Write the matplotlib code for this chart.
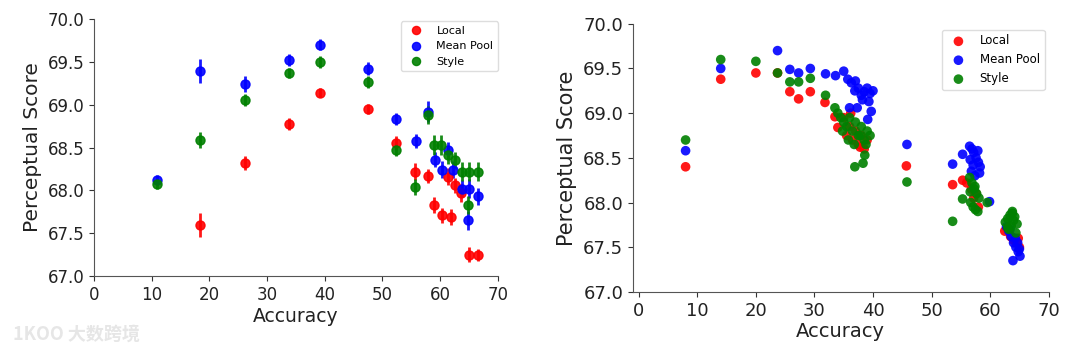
import matplotlib
matplotlib.use("Agg")
import matplotlib.pyplot as plt

# ---------------- Left panel data (with error bars) ----------------
left_local_x = [18.3, 26.2, 33.8, 39.1, 47.5, 52.4, 55.6, 57.9, 59.0, 60.4, 61.3, 61.8, 62.6, 63.6, 65.0, 66.5]
left_local_y = [67.60, 68.32, 68.78, 69.14, 68.95, 68.55, 68.22, 68.17, 67.83, 67.71, 68.16, 67.69, 68.06, 67.97, 67.25, 67.25]
left_local_err = [0.14, 0.08, 0.07, 0.05, 0.06, 0.08, 0.10, 0.08, 0.09, 0.09, 0.10, 0.09, 0.09, 0.10, 0.09, 0.07]

left_pool_x = [10.9, 18.3, 26.2, 33.8, 39.1, 47.5, 52.4, 55.8, 57.9, 59.1, 60.4, 61.4, 62.3, 63.7, 65.0, 64.8, 66.5]
left_pool_y = [68.12, 69.39, 69.24, 69.52, 69.70, 69.42, 68.83, 68.58, 68.92, 68.36, 68.24, 68.47, 68.24, 68.02, 68.02, 67.65, 67.93]
left_pool_err = [0.06, 0.14, 0.09, 0.07, 0.06, 0.08, 0.07, 0.08, 0.12, 0.09, 0.10, 0.10, 0.10, 0.10, 0.11, 0.11, 0.10]

left_style_x = [10.9, 18.3, 26.2, 33.8, 39.1, 47.5, 52.4, 55.6, 57.9, 59.0, 60.2, 61.4, 62.6, 63.7, 65.0, 66.5, 64.8]
left_style_y = [68.07, 68.59, 69.05, 69.37, 69.50, 69.26, 68.47, 68.04, 68.88, 68.53, 68.53, 68.41, 68.35, 68.22, 68.22, 68.22, 67.83]
left_style_err = [0.05, 0.09, 0.07, 0.06, 0.07, 0.07, 0.07, 0.09, 0.10, 0.12, 0.12, 0.10, 0.10, 0.11, 0.11, 0.11, 0.10]

# ---------------- Right panel data (scatter) ----------------
right_local_x = [8.0, 14.0, 20.0, 23.7, 25.8, 27.3, 29.3, 31.8, 33.5, 34.0,
                 35.0, 35.5, 36.0, 36.5, 37.0, 37.5, 38.0, 38.5, 39.0, 36.2,
                 37.8, 45.7, 53.6, 55.3, 56.0, 56.8, 57.2, 57.6, 58.0, 62.5,
                 63.0, 63.5, 64.0, 64.5, 65.0, 64.8]
right_local_y = [68.40, 69.38, 69.45, 69.45, 69.24, 69.16, 69.24, 69.12, 68.96, 68.84,
                 68.95, 68.75, 68.85, 68.70, 68.80, 68.65, 68.75, 68.60, 68.70, 69.00,
                 68.62, 68.41, 68.20, 68.25, 68.22, 68.15, 68.05, 68.10, 67.95, 67.68,
                 67.70, 67.62, 67.58, 67.55, 67.50, 67.60]

right_pool_x = [8.0, 14.0, 23.7, 25.8, 27.3, 29.3, 31.9, 33.6, 35.0, 35.7,
                36.3, 37.0, 36.9, 37.5, 38.0, 38.5, 39.0, 39.5, 40.0, 38.2,
                39.3, 36.0, 37.3, 39.7, 39.1, 45.8, 53.6, 55.3, 56.5, 56.9,
                57.2, 57.6, 58.0, 58.3, 56.8, 57.4, 57.9, 56.6, 57.1, 58.2,
                59.9, 62.8, 63.2, 63.6, 64.0, 64.4, 64.8, 65.1, 63.9, 64.3,
                64.7, 65.0, 63.4]
right_pool_y = [68.58, 69.50, 69.70, 69.49, 69.45, 69.50, 69.44, 69.42, 69.47, 69.38,
                69.34, 69.36, 69.25, 69.28, 69.20, 69.24, 69.28, 69.22, 69.25, 69.15,
                69.13, 69.06, 69.06, 69.02, 68.93, 68.65, 68.43, 68.54, 68.63, 68.60,
                68.56, 68.50, 68.45, 68.40, 68.35, 68.30, 68.58, 68.48, 68.42, 68.33,
                68.01, 67.73, 67.68, 67.62, 67.55, 67.50, 67.45, 67.40, 67.35, 67.60,
                67.55, 67.48, 67.70]

right_style_x = [8.0, 14.0, 20.0, 23.7, 25.8, 27.3, 29.3, 31.9, 33.5, 34.0,
                 34.5, 35.0, 35.5, 36.0, 36.5, 37.0, 37.5, 38.0, 38.5, 39.0,
                 39.5, 34.8, 35.8, 36.8, 37.8, 38.8, 38.6, 38.3, 36.9, 45.8,
                 53.6, 55.3, 56.5, 56.9, 57.3, 57.7, 58.1, 56.7, 57.1, 57.5,
                 57.9, 56.6, 57.4, 59.5, 62.6, 63.0, 63.4, 63.8, 64.2, 64.6,
                 63.2, 63.6, 64.0, 64.4, 63.0, 63.8]
right_style_y = [68.70, 69.60, 69.58, 69.45, 69.35, 69.35, 69.39, 69.20, 69.06, 69.00,
                 68.95, 68.90, 68.85, 68.95, 68.80, 68.90, 68.75, 68.85, 68.70, 68.80,
                 68.75, 68.80, 68.70, 68.65, 68.75, 68.65, 68.53, 68.44, 68.40, 68.23,
                 67.79, 68.04, 68.28, 68.22, 68.15, 68.10, 68.05, 68.00, 67.95, 67.92,
                 67.90, 68.12, 68.18, 68.00, 67.78, 67.82, 67.86, 67.90, 67.84, 67.76,
                 67.70, 67.74, 67.80, 67.66, 67.72, 67.88]

series_labels = ["Local", "Mean Pool", "Style"]
series_colors = ["r", "b", "g"]
x_ticks = [0, 10, 20, 30, 40, 50, 60, 70]
y_ticks = [67.0, 67.5, 68.0, 68.5, 69.0, 69.5, 70.0]

fig = plt.figure(figsize=(10.8, 3.5), dpi=100)

# ---------------- Left panel ----------------
axL = fig.add_axes([0.087, 0.211, 0.374, 0.735])
left_sets = [(left_local_x, left_local_y, left_local_err),
             (left_pool_x, left_pool_y, left_pool_err),
             (left_style_x, left_style_y, left_style_err)]
for (xs, ys, es), lab, col in zip(left_sets, series_labels, series_colors):
    axL.errorbar(xs, ys, yerr=es, fmt="o", color=col, ms=6.5, elinewidth=2,
                 capsize=0, alpha=0.9, label=lab)
axL.set_xlim(0, 70)
axL.set_ylim(67.0, 70.0)
axL.set_xticks(x_ticks)
axL.set_yticks(y_ticks)
axL.set_yticklabels([f"{v:.1f}" for v in y_ticks])
axL.tick_params(labelsize=12, colors="#333333", labelcolor="#222222")
axL.set_xlabel("Accuracy", fontsize=13.5, color="#222222", labelpad=2)
axL.set_ylabel("Perceptual Score", fontsize=14.5, color="#222222", labelpad=4)
for s in ["top", "right"]:
    axL.spines[s].set_visible(False)
for s in ["left", "bottom"]:
    axL.spines[s].set_color("#555555")
hL, lL = axL.get_legend_handles_labels()
legL = axL.legend([h[0] for h in hL], lL, loc="upper right", bbox_to_anchor=(1.0, 0.99),
                  borderaxespad=0, fontsize=8, handletextpad=0.8, markerscale=0.9,
                  framealpha=1, edgecolor="#dddddd")

# ---------------- Right panel ----------------
axR = fig.add_axes([0.586, 0.166, 0.385, 0.766])
right_sets = [(right_local_x, right_local_y),
              (right_pool_x, right_pool_y),
              (right_style_x, right_style_y)]
for (xs, ys), lab, col in zip(right_sets, series_labels, series_colors):
    axR.scatter(xs, ys, s=48, color=col, alpha=0.9, edgecolors="none", label=lab)
axR.set_xlim(-1, 70)
axR.set_ylim(67.0, 70.0)
axR.set_xticks(x_ticks)
axR.set_yticks(y_ticks)
axR.set_yticklabels([f"{v:.1f}" for v in y_ticks])
axR.tick_params(labelsize=13, colors="#333333", labelcolor="#222222")
axR.set_xlabel("Accuracy", fontsize=14, color="#222222", labelpad=2)
axR.set_ylabel("Perceptual Score", fontsize=15, color="#222222", labelpad=4)
for s in ["top", "right"]:
    axR.spines[s].set_visible(False)
for s in ["left", "bottom"]:
    axR.spines[s].set_color("#555555")
axR.legend(loc="upper right", bbox_to_anchor=(0.99, 0.978), borderaxespad=0,
           fontsize=8.5, handletextpad=0.8, framealpha=1, edgecolor="#dddddd")

# watermark
fig.text(0.012, 0.03, "1KOO 大数跨境", fontsize=13, color="#e6e6e6",
         family=["Noto Sans CJK SC", "DejaVu Sans"], fontweight="bold")

fig.savefig("out.png", dpi=100)
